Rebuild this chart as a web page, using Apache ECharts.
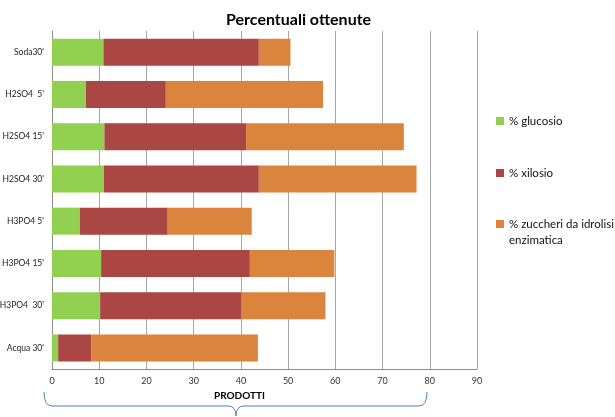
<!DOCTYPE html>
<html>
<head>
<meta charset="utf-8">
<script src="https://cdn.jsdelivr.net/npm/echarts@6/dist/echarts.min.js"></script>
<style>
  html, body { margin: 0; padding: 0; background: #fff; }
  #chart { width: 615px; height: 417px; }
</style>
</head>
<body>
<div id="chart"></div>
<script>
// Samples, top to bottom
const categories = ["Soda30'", "H2SO4  5'", "H2SO4 15'", "H2SO4 30'", "H3PO4 5'", "H3PO4 15'", "H3PO4  30'", "Acqua 30'"];

// Percent values per sample (stacked)
const glucosio = [10.9, 7.2, 11.1, 11.0, 5.9, 10.4, 10.2, 1.3];
const xilosio = [32.9, 16.9, 30.0, 32.8, 18.6, 31.5, 29.9, 7.0];
const zuccheriEnzimatici = [6.7, 33.3, 33.4, 33.4, 17.8, 17.9, 17.8, 35.3];

const seriesNames = ['% glucosio', '% xilosio', '% zuccheri da idrolisi enzimatica'];
const xTicks = [0, 10, 20, 30, 40, 50, 60, 70, 80, 90];

const FONT = 'Lato, "Open Sans", sans-serif';
const colors = ['#92D050', '#AA4644', '#DB843D'];

const chart = echarts.init(document.getElementById('chart'), null, { renderer: 'canvas' });

function bar(name, data) {
  return {
    name: name,
    type: 'bar',
    stack: 'tot',
    data: data,
    barWidth: 27,
    animation: false
  };
}

// Curly brace under the x axis, built from curve and line pieces
const braceStyle = { fill: null, stroke: '#4F81BD', lineWidth: 1 };
function curve(x1, y1, cx, cy, x2, y2) {
  return { type: 'bezierCurve', silent: true, shape: { x1: x1, y1: y1, cpx1: cx, cpy1: cy, x2: x2, y2: y2 }, style: braceStyle };
}
function seg(x1, y1, x2, y2) {
  return { type: 'line', silent: true, shape: { x1: x1, y1: y1, x2: x2, y2: y2 }, style: braceStyle };
}

const legendText = { fontFamily: FONT, fontSize: 11.5, color: '#111', lineHeight: 16 };
const legendBase = {
  orient: 'vertical',
  left: 491,
  itemWidth: 8,
  itemHeight: 8,
  itemGap: 36,
  icon: 'rect',
  textStyle: legendText
};

chart.setOption({
  animation: false,
  color: colors,
  textStyle: { fontFamily: FONT },
  title: {
    text: 'Percentuali ottenute',
    left: 221,
    top: 7,
    textStyle: { fontFamily: FONT, fontSize: 16, fontWeight: 'bold', color: '#000' }
  },
  legend: [
    Object.assign({}, legendBase, { top: 108, data: [seriesNames[0], seriesNames[1]] }),
    Object.assign({}, legendBase, {
      top: 195,
      data: [seriesNames[2]],
      // first line sits beside the colour key, second line wraps below
      formatter: function () { return ' \n% zuccheri da idrolisi\nenzimatica'; }
    })
  ],
  grid: { left: 52, right: 138, top: 31, bottom: 48, containLabel: false, outerBoundsMode: 'none' },
  xAxis: {
    type: 'value',
    min: xTicks[0],
    max: xTicks[xTicks.length - 1],
    interval: 10,
    name: 'PRODOTTI',
    nameLocation: 'middle',
    nameGap: 20,
    nameTextStyle: { fontFamily: FONT, fontSize: 10, fontWeight: 'bold', color: '#000', padding: [0, 50, 0, 0] },
    axisLine: { show: true, lineStyle: { color: '#8C8C8C', width: 1 } },
    axisTick: { show: false },
    axisLabel: { fontFamily: FONT, fontSize: 9, color: '#333', margin: 8 },
    splitLine: { show: true, lineStyle: { color: '#A6A6A6', width: 1 } }
  },
  yAxis: {
    type: 'category',
    inverse: true,
    data: categories,
    axisLine: { show: true, lineStyle: { color: '#8C8C8C', width: 1 } },
    axisTick: { show: false },
    axisLabel: { fontFamily: FONT, fontSize: 8.5, color: '#222', margin: 8 },
    splitLine: { show: false }
  },
  series: [
    bar(seriesNames[0], glucosio),
    bar(seriesNames[1], xilosio),
    bar(seriesNames[2], zuccheriEnzimatici)
  ],
  graphic: [
    curve(44, 392, 44, 406, 52, 406),
    seg(52, 406, 228, 406),
    curve(228, 406, 236, 406, 236, 416),
    curve(236, 416, 236, 406, 244, 406),
    seg(244, 406, 419, 406),
    curve(419, 406, 427, 406, 427, 392)
  ]
});
</script>
</body>
</html>
